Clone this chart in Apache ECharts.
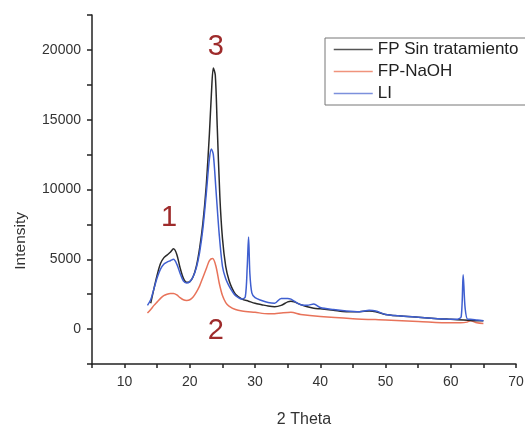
<!DOCTYPE html>
<html>
<head>
<meta charset="utf-8">
<script src="https://cdn.jsdelivr.net/npm/echarts@6/dist/echarts.min.js"></script>
<style>html,body{margin:0;padding:0;background:#fff;}#c{width:525px;height:428px;}</style>
</head>
<body>
<div id="c"></div>
<script>
var seriesNames = ['FP Sin tratamiento', 'FP-NaOH', 'LI'];

var fpX = [14.0,14.5,15,15.5,16,16.5,17,17.5,18,18.5,19,19.5,20,20.5,21,21.5,22,22.5,23,23.3,23.6,23.9,24.2,24.6,25,25.5,26,26.5,27,28,29,30,31,32,33,34,35,35.5,36,37,38,39,40,42,44,46,47.5,48.5,50,52,55,58,60,62,64,65];
var fpY = [1850,2900,3900,4700,5100,5300,5500,5750,5350,4400,3650,3350,3400,3750,4500,5800,7600,10200,14000,16800,18700,18200,14500,9500,6500,4500,3500,2900,2500,2150,2000,1850,1750,1650,1600,1700,1950,2000,1950,1750,1600,1500,1450,1350,1250,1250,1300,1250,1050,950,850,750,700,650,600,600];

var naohX = [13.5,14,14.5,15,15.5,16,16.5,17,17.5,18,18.5,19,19.5,20,20.5,21,21.5,22,22.5,23,23.5,24,24.5,25,25.5,26,27,28,30,32,33,34,35.5,37,40,45,50,55,60,61.5,62.5,63,64,65];
var naohY = [1150,1400,1700,1950,2200,2400,2500,2550,2550,2450,2250,2100,2050,2100,2300,2650,3100,3700,4300,4900,5050,4500,3300,2400,1900,1650,1400,1300,1200,1100,1100,1150,1200,1050,900,750,650,550,450,450,500,600,450,400];

var liX = [13.5,14,14.5,15,15.5,16,16.5,17,17.5,18,18.5,19,19.5,20,20.5,21,21.5,22,22.5,23,23.3,23.6,24,24.5,25,25.5,26,26.5,27,28,28.5,28.8,29,29.2,29.5,30,31,32,33,34,35,35.5,36,37,38,39,40,42,44,46,47.5,48.5,50,52,55,58,60,61,61.6,61.9,62.2,62.6,63,64,65];
var liY = [1700,2100,2900,3700,4300,4650,4800,4900,5000,4650,4000,3450,3300,3400,3750,4400,5500,7200,9600,12200,12900,12500,10000,6800,4500,3600,3100,2700,2400,2150,2300,4500,6600,4000,2600,2250,2050,1900,1850,2200,2200,2150,2000,1750,1700,1800,1550,1400,1300,1250,1350,1300,1050,950,850,750,700,700,900,3900,1500,700,700,650,600];

var annotLabels = ['1', '2', '3'];
var annotX = [16.8, 24.0, 24.0];
var annotY = [7950, -150, 20200];

var lineColors = ['#2a2a2a', '#e8735a', '#3f5fd0'];
var legendColors = ['#555555', '#f0937c', '#7c90dc'];

function zip(xs, ys) { return xs.map(function (x, i) { return [x, ys[i]]; }); }

var chart = echarts.init(document.getElementById('c'), null, { renderer: 'canvas' });
var font = 'Liberation Sans, Arial, sans-serif';

chart.setOption({
  animation: false,
  backgroundColor: '#fff',
  grid: { left: 92, right: 9, top: 15, bottom: 64, containLabel: false, outerBoundsMode: 'none' },
  legend: {
    data: seriesNames.map(function (n, i) {
      return { name: n, lineStyle: { color: legendColors[i], width: 1.5 } };
    }),
    orient: 'vertical',
    left: 325, top: 38,
    itemWidth: 39, itemHeight: 14, itemGap: 5,
    padding: [3, 20, 3, 8],
    borderColor: '#777', borderWidth: 1,
    itemStyle: { opacity: 0, borderWidth: 0 },
    textStyle: { fontFamily: font, fontSize: 17, color: '#222', lineHeight: 16 }
  },
  xAxis: {
    type: 'value', min: 5, max: 70, interval: 5,
    name: '2 Theta', nameLocation: 'middle', nameGap: 48,
    nameTextStyle: { fontFamily: font, fontSize: 16, color: '#333' },
    axisLine: { show: true, onZero: false, lineStyle: { color: '#222', width: 1.5 } },
    axisTick: { show: true, inside: false, length: 4, lineStyle: { color: '#222', width: 1.5 } },
    axisLabel: {
      fontFamily: font, fontSize: 14, color: '#333', margin: 11,
      formatter: function (v) { return (v % 10 === 0) ? String(v) : ''; }
    },
    splitLine: { show: false }
  },
  yAxis: {
    type: 'value', min: -2500, max: 22500, interval: 2500,
    axisLine: { show: true, onZero: false, lineStyle: { color: '#222', width: 1.5 } },
    axisTick: { show: true, inside: false, length: 5, lineStyle: { color: '#222', width: 1.5 } },
    axisLabel: {
      fontFamily: font, fontSize: 14, color: '#333', margin: 11,
      formatter: function (v) { return (v >= 0 && v <= 20000 && v % 5000 === 0) ? String(v) : ''; }
    },
    splitLine: { show: false }
  },
  graphic: [{
    type: 'text', left: 13, top: 212, rotation: Math.PI / 2,
    style: { text: 'Intensity', font: '15.5px ' + font, fill: '#333' }
  }],
  series: [
    {
      name: seriesNames[0], type: 'line', symbol: 'none', smooth: 0.3,
      data: zip(fpX, fpY), lineStyle: { color: lineColors[0], width: 1.5 }, itemStyle: { color: lineColors[0] }, z: 3,
      markPoint: {
        symbol: 'circle', symbolSize: 0,
        label: { show: true, fontFamily: font, fontSize: 29, color: '#9e2b2b', formatter: function (p) { return p.name; } },
        data: annotLabels.map(function (t, i) { return { name: t, coord: [annotX[i], annotY[i]] }; })
      }
    },
    {
      name: seriesNames[1], type: 'line', symbol: 'none', smooth: 0.3,
      data: zip(naohX, naohY), lineStyle: { color: lineColors[1], width: 1.5 }, itemStyle: { color: lineColors[1] }, z: 2
    },
    {
      name: seriesNames[2], type: 'line', symbol: 'none', smooth: 0.3,
      data: zip(liX, liY), lineStyle: { color: lineColors[2], width: 1.5 }, itemStyle: { color: lineColors[2] }, z: 4
    }
  ]
});
</script>
</body>
</html>
